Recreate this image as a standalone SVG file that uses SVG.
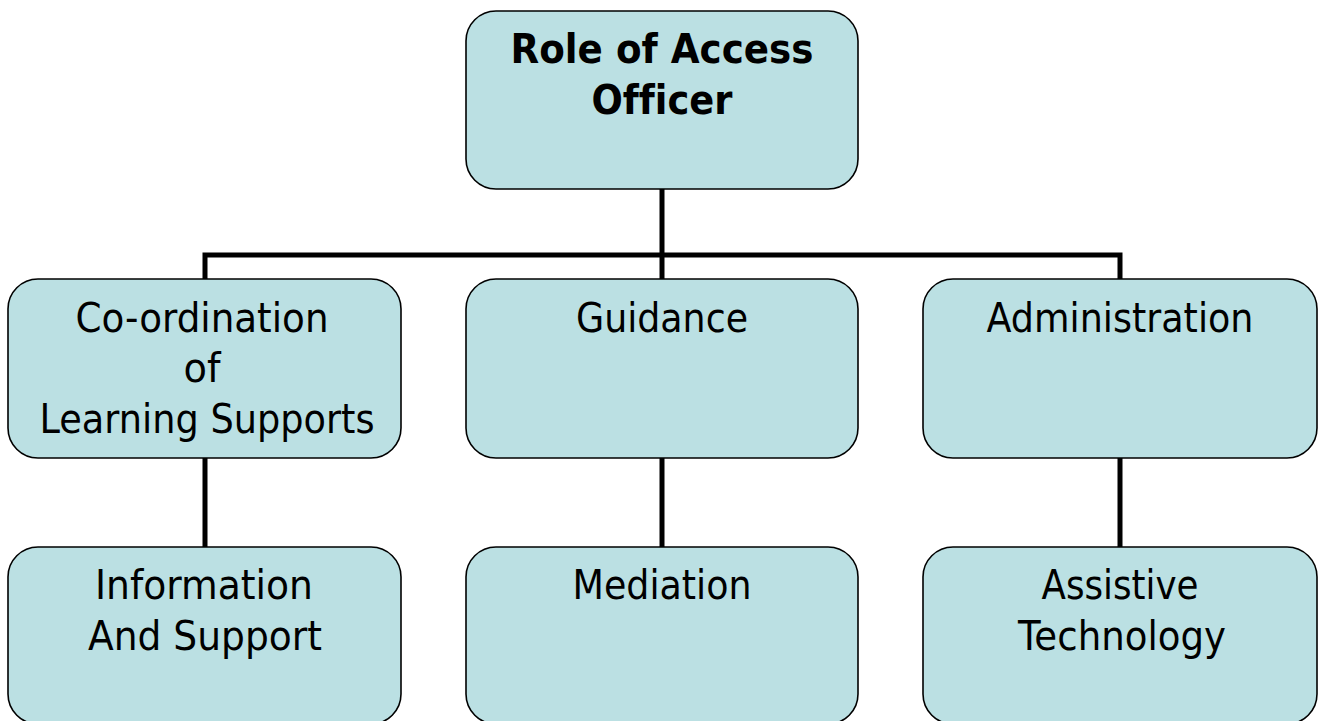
<svg xmlns="http://www.w3.org/2000/svg" width="1324" height="721" viewBox="0 0 1324 721">
<style>
.box{fill:#BBE0E3;stroke:#000;stroke-width:1.6}
.t{font-family:"DejaVu Sans","Liberation Sans",sans-serif;font-size:41px;fill:#000;text-anchor:middle;font-variant-ligatures:none}
.b{font-weight:bold}
.c{fill:none;stroke:#000;stroke-width:5}
</style>
<rect width="1324" height="721" fill="#fff"/>
<g id="connectors">
<path class="c" d="M662 189V279M205 279V255H1120V279M205 458V547M662 458V547M1120 458V547"/>
</g>
<g id="root">
<rect class="box" x="466" y="11" width="392" height="178" rx="30"/>
<text class="t b" x="662" y="63" textLength="303" lengthAdjust="spacingAndGlyphs">Role of Access</text>
<text class="t b" x="662" y="114" textLength="141" lengthAdjust="spacingAndGlyphs">Officer</text>
</g>
<g id="coordination">
<rect class="box" x="8" y="279" width="393" height="179" rx="30"/>
<text class="t" x="202" y="332" textLength="253" lengthAdjust="spacingAndGlyphs">Co-ordination</text>
<text class="t" x="202" y="382" textLength="37" lengthAdjust="spacingAndGlyphs">of</text>
<text class="t" x="207" y="433" textLength="335" lengthAdjust="spacingAndGlyphs">Learning Supports</text>
</g>
<g id="guidance">
<rect class="box" x="466" y="279" width="392" height="179" rx="30"/>
<text class="t" x="662" y="332" textLength="172" lengthAdjust="spacingAndGlyphs">Guidance</text>
</g>
<g id="administration">
<rect class="box" x="923" y="279" width="394" height="179" rx="30"/>
<text class="t" x="1120" y="332" textLength="267" lengthAdjust="spacingAndGlyphs">Administration</text>
</g>
<g id="information">
<rect class="box" x="8" y="547" width="393" height="177" rx="30"/>
<text class="t" x="204" y="599" textLength="218" lengthAdjust="spacingAndGlyphs">Information</text>
<text class="t" x="205" y="650" textLength="234" lengthAdjust="spacingAndGlyphs">And Support</text>
</g>
<g id="mediation">
<rect class="box" x="466" y="547" width="392" height="177" rx="30"/>
<text class="t" x="662" y="599" textLength="179" lengthAdjust="spacingAndGlyphs">Mediation</text>
</g>
<g id="assistive">
<rect class="box" x="923" y="547" width="394" height="177" rx="30"/>
<text class="t" x="1120" y="599" textLength="157" lengthAdjust="spacingAndGlyphs">Assistive</text>
<text class="t" x="1122" y="650" textLength="208" lengthAdjust="spacingAndGlyphs">Technology</text>
</g>
</svg>
